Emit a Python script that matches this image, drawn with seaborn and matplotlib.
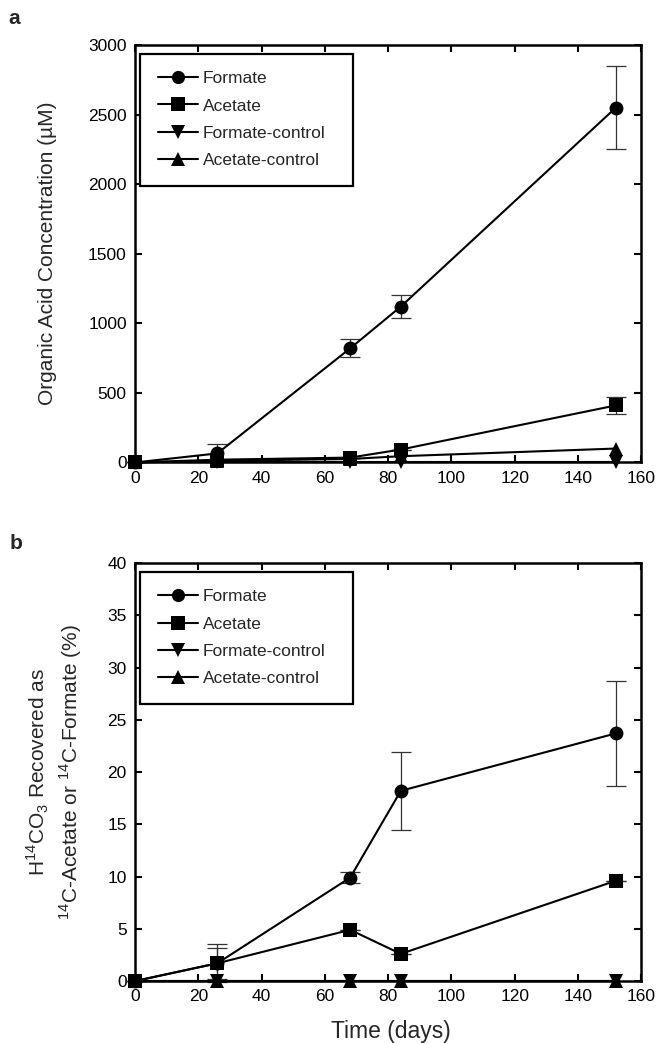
import matplotlib
matplotlib.use("Agg")
import matplotlib.pyplot as plt
import seaborn as sns
import pandas as pd

# Sampling times (days)
days = [0, 26, 68, 84, 152]
series_names = ["Formate", "Acetate", "Formate-control", "Acetate-control"]
series_markers = ["o", "s", "v", "^"]

# Panel a: organic acid concentration (uM)
conc_formate = [0, 65, 820, 1120, 2550]
conc_formate_err = [0, 65, 65, 85, 300]
conc_acetate = [0, 20, 35, 93, 410]
conc_acetate_err = [0, 0, 0, 0, 62]
conc_formate_ctrl = [0, 0, 0, 0, 0]
conc_acetate_ctrl = [0, 12, 25, 45, 100]

# Panel b: H14CO3 recovered as 14C-acetate or 14C-formate (%)
rec_formate = [0, 1.7, 9.9, 18.2, 23.7]
rec_formate_err = [0, 1.8, 0.5, 3.7, 5.0]
rec_acetate = [0, 1.7, 4.9, 2.6, 9.6]
rec_acetate_err = [0, 1.5, 0, 0, 0]
rec_formate_ctrl = [0, 0, 0, 0, 0]
rec_acetate_ctrl = [0, 0, 0, 0, 0]

xticks = [0, 20, 40, 60, 80, 100, 120, 140, 160]
yticks_a = [0, 500, 1000, 1500, 2000, 2500, 3000]
yticks_b = [0, 5, 10, 15, 20, 25, 30, 35, 40]

sns.set_theme(style="ticks")
plt.rcParams["font.family"] = ["Liberation Sans", "DejaVu Sans"]
plt.rcParams["mathtext.fontset"] = "custom"
plt.rcParams["mathtext.rm"] = "Liberation Sans"

fig = plt.figure(figsize=(6.59, 10.43), dpi=100)
ax_a = fig.add_axes([0.205, 0.5566, 0.768, 0.4003])
ax_b = fig.add_axes([0.205, 0.0594, 0.768, 0.4008])


def long_frame(values):
    rows = []
    for name, vals in zip(series_names, values):
        for d, v in zip(days, vals):
            rows.append({"day": d, "value": v, "series": name})
    return pd.DataFrame(rows)


def draw_panel(ax, values, errs, yticks, ylabel, ylabel_x, linespacing=1.2):
    df = long_frame(values)
    sns.lineplot(
        data=df, x="day", y="value", hue="series", style="series",
        hue_order=series_names, style_order=series_names,
        palette=["black"] * 4, markers=dict(zip(series_names, series_markers)),
        dashes=False, markersize=10, markeredgewidth=0, linewidth=1.5,
        ax=ax, clip_on=False, zorder=3, legend=True,
    )
    for vals, err in errs:
        ax.errorbar(days, vals, yerr=err, fmt="none", ecolor="#333333",
                    elinewidth=0.9, capsize=7, capthick=0.9, zorder=2,
                    clip_on=False)
    ax.set_xlim(0, 160)
    ax.set_ylim(yticks[0], yticks[-1])
    ax.set_xticks(xticks)
    ax.set_yticks(yticks)
    ax.tick_params(direction="in", length=5, width=1.5, top=True, right=True,
                   labelsize=12.5, colors="black")
    ax.tick_params(axis="x", labeltop=False, pad=6)
    ax.tick_params(axis="y", labelright=False, pad=6)
    for sp in ax.spines.values():
        sp.set_linewidth(1.8)
        sp.set_color("black")
        sp.set_visible(True)
    ax.set_xlabel("")
    ax.set_ylabel(ylabel, fontsize=15, linespacing=linespacing)
    ax.yaxis.set_label_coords(ylabel_x, 0.5)
    handles, labels = ax.get_legend_handles_labels()
    leg = ax.legend(handles, labels, loc="upper left",
                    bbox_to_anchor=(0.010, 0.0, 0.421, 0.979), mode="expand",
                    frameon=True, fancybox=False, edgecolor="black",
                    framealpha=1, fontsize=12.5, handlelength=2.35,
                    handletextpad=0.25, borderpad=1.0, labelspacing=0.7,
                    borderaxespad=0)
    leg.get_frame().set_linewidth(1.6)
    for h in leg.legend_handles:
        h.set_markersize(9.5)


draw_panel(
    ax_a,
    [conc_formate, conc_acetate, conc_formate_ctrl, conc_acetate_ctrl],
    [(conc_formate, conc_formate_err), (conc_acetate, conc_acetate_err)],
    yticks_a,
    "Organic Acid Concentration (\u00b5M)",
    -0.154,
)
draw_panel(
    ax_b,
    [rec_formate, rec_acetate, rec_formate_ctrl, rec_acetate_ctrl],
    [(rec_formate, rec_formate_err), (rec_acetate, rec_acetate_err)],
    yticks_b,
    "H$^{\\mathregular{14}}$CO$_{\\mathregular{3}}$ Recovered as\n"
    "$^{\\mathregular{14}}$C-Acetate or $^{\\mathregular{14}}$C-Formate (%)",
    -0.10,
    linespacing=1.35,
)
ax_b.set_xlabel("Time (days)", fontsize=16.5)
ax_b.xaxis.set_label_coords(0.505, -0.094)

fig.text(0.021, 0.982, "a", fontsize=15, fontweight="bold",
         ha="center", va="center")
fig.text(0.024, 0.479, "b", fontsize=15, fontweight="bold",
         ha="center", va="center")

fig.savefig("out.png", dpi=100, facecolor="white")
